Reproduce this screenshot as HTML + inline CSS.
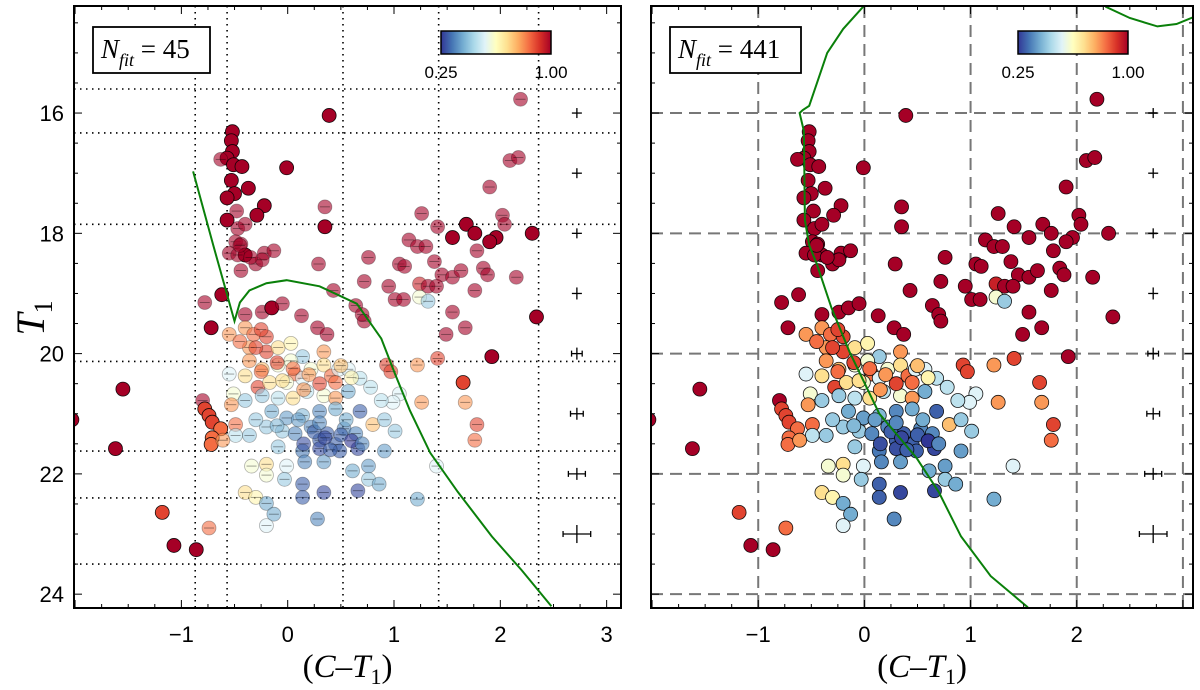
<!DOCTYPE html>
<html><head><meta charset="utf-8"><style>
html,body{margin:0;padding:0;background:#fff;}
svg{display:block;font-family:"Liberation Sans",sans-serif;}
</style></head><body>
<svg id="fig" width="1200" height="690" viewBox="0 0 1200 690" xmlns="http://www.w3.org/2000/svg"></svg>
<script>
// ---- data (colour, magnitude, probability, fit member) ----
const ptX=[-0.52,-0.53,-0.52,-0.57,-0.63,-0.51,-0.43,-0.53,-0.37,-0.5,-0.57,-0.22,-0.48,-0.29,-0.57,-0.47,-0.4,-0.49,-0.44,-0.55,-0.4,-0.22,-0.13,-0.3,-0.44,-0.24,-0.47,
-0.01,0.39,0.35,0.35,0.29,0.43,-0.62,-0.78,-0.72,-0.4,-0.24,-0.15,-0.05,0.13,0.28,0.37,0.64,0.7,
-0.55,-0.4,-0.32,-0.2,-0.36,-0.2,-0.09,0.03,0.14,0.34,-0.36,-0.55,-0.4,-0.24,-0.09,0.03,0.07,0.22,0.34,0.41,0.48,0.57,0.68,0.93,0.97,1.22,1.41,1.92,1.65,1.67,1.78,1.76,1.26,1.05,0.99,0.88,0.78,
-0.28,-0.17,-0.01,0.14,-0.51,-0.4,-0.53,-0.24,-0.09,0.05,0.18,0.34,0.45,0.57,0.45,
-0.15,-0.01,0.14,0.3,0.45,0.68,0.8,0.91,1.01,-0.49,-0.49,-0.36,-0.2,-0.05,0.07,0.22,0.37,0.53,0.64,0.3,0.45,-0.09,0.14,0.3,0.49,0.66,0.91,
-0.34,-0.2,-0.01,0.16,0.34,0.61,0.76,1.4,-0.2,-0.03,0.14,0.76,0.86,-0.4,-0.3,0.14,0.34,0.66,1.22,-0.2,-0.13,0.28,-0.2,-0.74,
-0.8,-0.78,-0.74,-0.71,-0.63,-0.71,-0.72,-0.61,-1.55,-1.62,-2.03,-1.18,-1.07,-0.86,
2.19,2.09,2.17,1.9,2.02,2.04,1.96,1.9,1.68,1.76,1.55,2.3,2.34,1.26,1.41,1.14,1.22,1.3,0.76,1.05,1.1,1.38,1.45,1.55,1.63,1.84,1.88,1.78,2.15,0.72,0.95,1.01,1.09,1.24,1.32,1.4,1.24,1.32,1.76,1.55,1.67,1.49,0.72,
-0.25,-0.1,0.05,0.2,0.3,0.15,-0.05,0.5,0.6,0.25,0.35,0.5,0.6,0.15,0.4,0.7,0.1,0.3,0.55,-0.1,-0.3,-0.45,-0.3,-0.25,-0.45,-0.35];
const ptY=[16.31,16.46,16.64,16.75,16.77,16.86,16.89,17.12,17.25,17.34,17.41,17.54,17.63,17.7,17.78,17.92,17.85,18.14,18.18,18.33,18.36,18.33,18.29,18.51,18.62,18.44,18.36,
16.91,16.04,17.56,17.89,18.51,18.95,19.02,19.15,19.57,19.35,19.31,19.24,19.17,19.37,19.57,19.68,19.2,19.35,
19.68,19.57,19.68,19.72,19.9,19.97,19.9,19.83,20.05,19.97,20.12,20.34,20.37,20.26,20.19,20.12,20.34,20.26,20.19,20.37,20.26,20.26,20.41,20.19,20.3,20.19,20.08,20.05,20.48,20.81,21.18,21.44,20.81,20.67,20.81,20.78,20.56,
20.56,20.48,20.48,20.41,20.67,20.78,20.85,20.7,20.74,20.74,20.63,20.7,20.74,20.63,20.48,
20.96,21.07,21.03,20.96,20.92,20.96,21.18,21.1,21.29,21.18,21.36,21.36,21.22,21.29,21.33,21.22,21.33,21.25,21.33,21.44,21.51,21.55,21.62,21.58,21.62,21.58,21.62,
21.87,21.84,21.87,21.8,21.8,21.95,21.87,21.87,22.02,22.09,22.17,22.09,22.17,22.31,22.39,22.39,22.31,22.28,22.42,22.49,22.67,22.75,22.86,22.9,
20.78,20.92,21.03,21.14,21.25,21.4,21.51,21.44,20.59,21.58,21.1,22.64,23.19,23.26,
15.77,16.79,16.74,17.23,17.7,17.85,18.07,18.14,17.85,18.0,18.07,18.0,19.39,17.67,17.89,18.11,18.22,18.22,18.4,18.51,18.55,18.47,18.69,18.73,18.62,18.58,18.69,18.29,18.73,18.8,18.88,19.1,19.1,18.84,18.88,18.88,19.06,19.13,18.95,19.31,19.57,19.68,19.46,
20.3,20.15,20.25,20.35,20.5,20.6,20.45,20.2,20.4,21.3,21.4,21.35,21.45,21.5,21.6,21.5,21.1,21.15,21.1,21.2,21.1,19.8,19.9,19.6,18.2,18.4];
const ptP=[1,1,1,1,1,1,1,1,1,1,1,1,1,1,1,1,1,1,1,1,1,1,1,1,1,1,1,
1,1,1,1,1,1,1,1,1,1,1,1,1,1,1,1,1,1,
0.8,0.8,0.85,0.9,0.8,0.9,0.7,0.65,0.45,0.8,0.8,0.55,0.7,0.75,0.6,0.6,0.85,0.6,0.7,0.85,0.55,0.55,0.5,0.9,0.9,0.8,0.9,1,0.9,0.8,0.9,0.85,0.8,0.55,0.55,0.5,0.5,
0.9,0.7,0.6,0.55,0.6,0.45,0.8,0.45,0.5,0.7,0.5,0.6,0.8,0.4,0.85,
0.4,0.38,0.42,0.35,0.4,0.3,0.75,0.45,0.45,0.85,0.5,0.45,0.45,0.45,0.35,0.35,0.3,0.35,0.35,0.3,0.3,0.45,0.33,0.28,0.3,0.27,0.38,
0.6,0.7,0.55,0.35,0.38,0.4,0.38,0.55,0.6,0.45,0.3,0.45,0.4,0.7,0.65,0.3,0.27,0.27,0.4,0.4,0.4,0.35,0.55,0.85,
1,0.9,0.9,0.9,0.85,0.85,0.85,0.8,1,1,1,0.9,1,1,
1,1,1,1,1,1,1,1,1,1,1,1,1,1,1,1,1,1,1,1,1,1,1,1,1,1,1,1,1,1,1,1,1,0.95,1,1,0.6,0.45,1,1,1,1,1,
0.85,0.9,0.85,0.8,0.9,0.8,0.7,0.75,0.65,0.3,0.27,0.3,0.25,0.28,0.3,0.35,0.38,0.35,0.4,0.42,0.45,0.85,0.9,0.9,1,1];
const ptM=[1,1,1,1,0,1,1,1,1,1,1,1,0,1,1,0,0,0,0,0,1,0,0,0,0,0,0,
1,1,0,1,0,0,1,0,1,0,0,1,0,0,0,0,0,0,
0,0,0,0,0,0,0,0,0,0,0,0,0,0,0,0,0,0,0,0,0,0,0,0,0,0,0,1,1,0,0,0,0,0,0,0,0,
0,0,0,0,0,0,0,0,0,0,0,0,0,0,0,
0,0,0,0,0,0,0,0,0,0,0,0,0,0,0,0,0,0,0,0,0,0,0,0,0,0,0,
0,0,0,0,0,0,0,0,0,0,0,0,0,0,0,0,0,0,0,0,0,0,0,0,
0,1,1,1,1,1,1,0,1,1,1,1,1,1,
0,0,0,0,0,0,1,1,1,1,1,1,1,0,0,0,0,0,0,0,0,0,0,0,0,0,0,0,0,0,0,0,0,0,0,0,0,0,0,0,0,0,0,
0,0,0,0,0,0,0,0,0,0,0,0,0,0,0,0,0,0,0,0,0,0,0,0,0,0];
// isochrones
const isoLX=[-0.89,-0.7,-0.5,-0.45,-0.36,-0.2,-0.01,0.3,0.65,0.88,1.01,1.15,1.34,1.6,1.92,2.2,2.48];
const isoLY=[16.97,18.2,19.46,19.15,18.95,18.83,18.78,18.88,19.17,19.75,20.34,20.95,21.65,22.3,23.04,23.6,24.2];
const isoRX=[-0.01,-0.2,-0.35,-0.52,-0.58,-0.61,-0.57,-0.56,-0.52,-0.45,-0.31,-0.14,0.14,0.49,0.7,0.91,1.19,1.54];
const isoRY=[14.23,14.6,15.0,15.88,15.95,16.0,16.3,17.78,18.2,18.5,19.24,19.97,21.0,21.73,22.3,23.04,23.7,24.22];
const isoR2X=[2.27,2.5,2.76,2.94,3.15];
const isoR2Y=[14.23,14.42,14.56,14.52,14.37];
// error bars
const errMag=[16,17,18,19,20,21,22,23];
const errCol=[0.03,0.03,0.03,0.04,0.05,0.06,0.08,0.13];
const errMagE=[0.08,0.08,0.08,0.1,0.1,0.1,0.1,0.15];
// ticks
const xTicksL=[-1,0,1,2,3];
const xTicksR=[-1,0,1,2];
const yTicks=[16,18,20,22,24];
const gridLX=[-0.87,-0.57,0.52,1.42,2.36];
const gridLY=[15.6,16.33,17.85,20.13,21.62,22.4,23.5];
const gridRX=[-1,0,1,2,3];
const gridRY=[16,18,20,22,24];

const NS='http://www.w3.org/2000/svg';
const svg=document.getElementById('fig');
function mk(tag,attrs,parent){const e=document.createElementNS(NS,tag);for(const k in attrs)e.setAttribute(k,attrs[k]);(parent||svg).appendChild(e);return e;}
const cstops=[[0,[49,54,149]],[0.1,[69,117,180]],[0.2,[116,173,209]],[0.3,[171,217,233]],[0.4,[224,243,248]],[0.5,[255,255,191]],[0.6,[254,224,144]],[0.7,[253,174,97]],[0.8,[244,109,67]],[0.9,[215,48,39]],[1,[165,0,38]]];
function cmap(v){let t=(v-0.25)/0.75;t=Math.max(0,Math.min(1,t));for(let i=1;i<cstops.length;i++){if(t<=cstops[i][0]){const a=cstops[i-1],b=cstops[i];const f=(t-a[0])/(b[0]-a[0]);const c=a[1].map((x,j)=>Math.round(x+(b[1][j]-x)*f));return `rgb(${c.join(',')})`;}}return 'rgb(165,0,38)';}
const defs=mk('defs',{});
const grad=mk('linearGradient',{id:'cbg',x1:'0',x2:'1',y1:'0',y2:'0'},defs);
cstops.forEach(s=>mk('stop',{offset:s[0],'stop-color':`rgb(${s[1].join(',')})`},grad));

function panel(P){
  const sx=v=>P.x0+(v-P.xmin)/(P.xmax-P.xmin)*(P.x1-P.x0);
  const sy=v=>P.y0+(v-P.ymin)/(P.ymax-P.ymin)*(P.y1-P.y0);
  const g=mk('g',{});
  
  
  const clipId='clip'+P.name;
  const cp=mk('clipPath',{id:clipId},defs);mk('rect',{x:P.x0,y:P.y0,width:P.x1-P.x0,height:P.y1-P.y0},cp);
  const inner=mk('g',{'clip-path':`url(#${clipId})`},g);
  P.gx.forEach(v=>{const l=mk('line',{x1:sx(v),x2:sx(v),y1:P.y0,y2:P.y1,stroke:P.gridCol,'stroke-width':P.gridW,'stroke-dasharray':P.dash},inner);
    
    });
  P.gy.forEach(v=>{const l=mk('line',{x1:P.x0,x2:P.x1,y1:sy(v),y2:sy(v),stroke:P.gridCol,'stroke-width':P.gridW,'stroke-dasharray':P.dash},inner);
    
    });
  for(let i=0;i<ptX.length;i++){
    const cx=sx(ptX[i]),cy=sy(ptY[i]);
    const op=P.left?(ptM[i]?1:0.6):1;
    const c=mk('circle',{cx:cx,cy:cy,r:7,fill:cmap(ptP[i]),'fill-opacity':op,stroke:'#000','stroke-opacity':P.left?(ptM[i]?0.9:0.3):0.9,'stroke-width':0.8},inner);
    
    
    if(P.left&&!ptM[i]){mk('line',{x1:cx-5,x2:cx+5,y1:cy,y2:cy,stroke:'#000','stroke-opacity':0.45,'stroke-width':0.8},inner);}
  }
  P.isos.forEach(iso=>{
    const d=iso[0].map((v,i)=>(i?'L':'M')+sx(v).toFixed(1)+','+sy(iso[1][i]).toFixed(1)).join(' ');
    const p=mk('path',{d:d,fill:'none',stroke:'#0a800a','stroke-width':2},inner);
    
    
  });
  errMag.forEach((m,i)=>{
    const eg=mk('g',{stroke:'#000','stroke-width':1.3},inner);
    
    
    const x=sx(2.72),y=sy(m),hw=Math.max(5,sx(2.72+errCol[i])-x),hh=Math.max(5,sy(m+errMagE[i])-y);
    mk('line',{x1:x-hw,x2:x+hw,y1:y,y2:y},eg);
    mk('line',{x1:x,x2:x,y1:y-hh,y2:y+hh},eg);
    if(i>=4){mk('line',{x1:x-hw,x2:x-hw,y1:y-3,y2:y+3},eg);mk('line',{x1:x+hw,x2:x+hw,y1:y-3,y2:y+3},eg);}
  });
  const fr=mk('rect',{x:P.x0,y:P.y0,width:P.x1-P.x0,height:P.y1-P.y0,fill:'none',stroke:'#000','stroke-width':2},g);
  
  
  for(let v=Math.ceil(P.xmin*4)/4;v<=P.xmax;v+=0.25){const x=sx(v);const L=Math.abs(v-Math.round(v))<1e-6?8:4;
    mk('line',{x1:x,x2:x,y1:P.y1,y2:P.y1-L,stroke:'#000','stroke-width':1},g);mk('line',{x1:x,x2:x,y1:P.y0,y2:P.y0+L,stroke:'#000','stroke-width':1},g);}
  for(let v=Math.ceil(P.ymin*2)/2;v<=P.ymax;v+=0.5){const y=sy(v);const L=Math.abs(v/2-Math.round(v/2))<1e-6?8:4;
    mk('line',{x1:P.x0,x2:P.x0+L,y1:y,y2:y,stroke:'#000','stroke-width':1},g);mk('line',{x1:P.x1,x2:P.x1-L,y1:y,y2:y,stroke:'#000','stroke-width':1},g);}
  P.xt.forEach(v=>{const t=mk('text',{x:sx(v),y:P.y1+34,'text-anchor':'middle','font-size':22},g);t.textContent=v<0?'\u2212'+Math.abs(v):String(v);
    
    });
  if(P.left){yTicks.forEach(v=>{const t=mk('text',{x:P.x0-10,y:sy(v)+8,'text-anchor':'end','font-size':22},g);t.textContent=String(v);
    
    });}
  const xl=mk('text',{x:(P.x0+P.x1)/2,y:677,'text-anchor':'middle','font-size':33,'font-family':'"Liberation Serif",serif'},g);
  xl.innerHTML='(<tspan font-style="italic">C</tspan>\u2013<tspan font-style="italic">T</tspan><tspan font-size="22" dy="7">1</tspan><tspan dy="-7">)</tspan>';
  
  
  const nb=mk('g',{},g);
  
  
  mk('rect',{x:P.nb[0],y:27,width:P.nb[1],height:46,fill:'#fff',stroke:'#000','stroke-width':1.8},nb);
  const nt=mk('text',{x:P.nb[0]+8,y:58,'font-size':27,'font-family':'"Liberation Serif",serif'},nb);
  nt.innerHTML='<tspan font-style="italic">N</tspan><tspan font-style="italic" font-size="18" dy="8">fit</tspan><tspan dy="-8"> = '+P.nfit+'</tspan>';
  const cb=mk('g',{},g);
  
  
  mk('rect',{x:P.cb,y:31,width:110,height:23,fill:'url(#cbg)',stroke:'#000','stroke-width':1.5},cb);
  const c1=mk('text',{x:P.cb,y:78,'text-anchor':'middle','font-size':17},cb);c1.textContent='0.25';
  const c2=mk('text',{x:P.cb+110,y:78,'text-anchor':'middle','font-size':17},cb);c2.textContent='1.00';
}
panel({name:'left-panel',left:true,x0:74,x1:621,y0:6,y1:608,xmin:-2.01,xmax:3.135,ymin:14.22,ymax:24.23,
  gx:gridLX,gy:gridLY,gridCol:'#000',gridW:1.6,dash:'1.5,4.5',isos:[[isoLX,isoLY]],xt:xTicksL,nb:[93,117],nfit:'45',cb:441});
panel({name:'right-panel',left:false,x0:651,x1:1193,y0:6,y1:608,xmin:-2.01,xmax:3.095,ymin:14.22,ymax:24.23,
  gx:gridRX,gy:gridRY,gridCol:'#777',gridW:2,dash:'12,7',isos:[[isoRX,isoRY],[isoR2X,isoR2Y]],xt:xTicksR,nb:[670,131],nfit:'441',cb:1018});
const yl=mk('text',{x:0,y:0,'font-size':40,'font-style':'italic','font-family':'"Liberation Serif",serif',transform:'translate(44,318) rotate(-90)','text-anchor':'middle'});
yl.innerHTML='T<tspan font-size="26" dy="8" font-style="normal">1</tspan>';


</script>
</body></html>
